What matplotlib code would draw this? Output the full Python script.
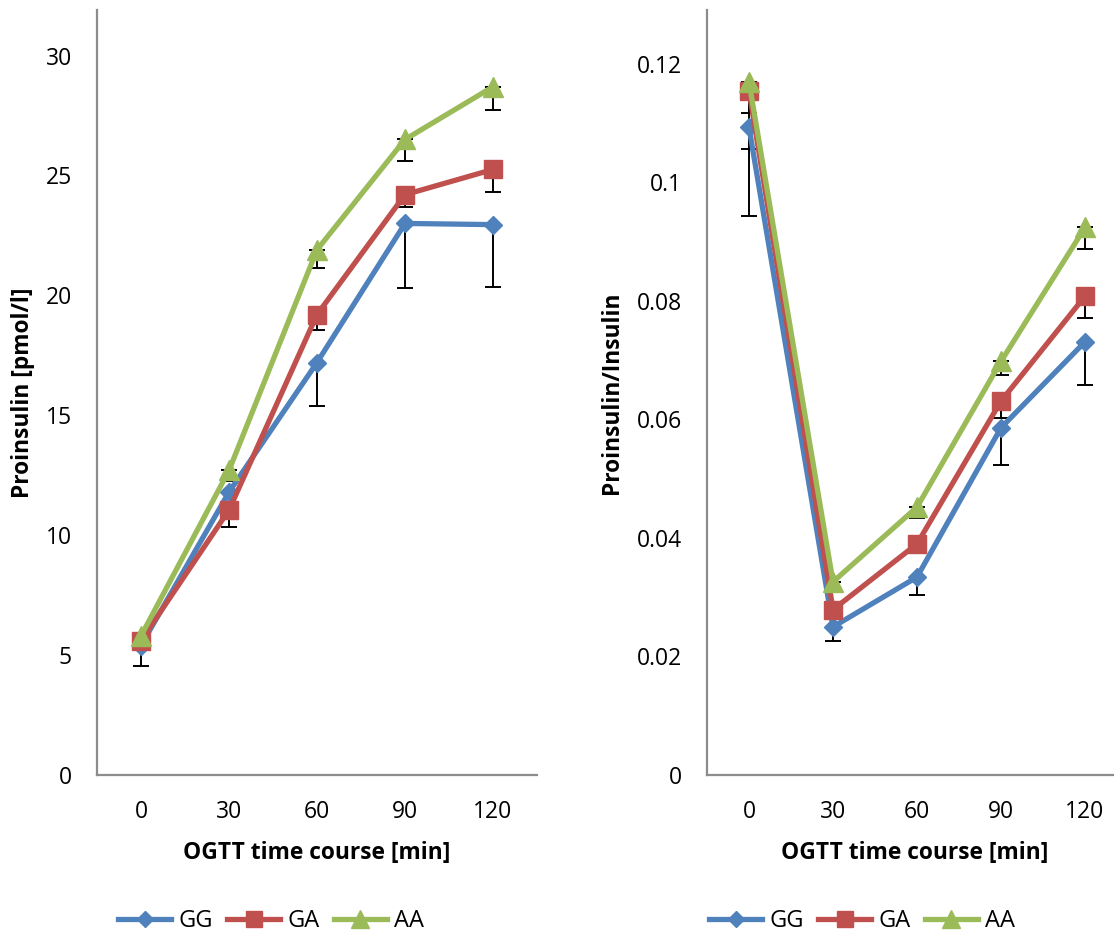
import matplotlib
matplotlib.use("Agg")
import matplotlib.pyplot as plt
import numpy as np

plt.rcParams['font.family'] = ['Open Sans', 'DejaVu Sans']

times = ["0", "30", "60", "90", "120"]
groups = ["GG", "GA", "AA"]
colors = {"GG": "#4F81BD", "GA": "#C0504D", "AA": "#9BBB59"}
markers = {"GG": "D", "GA": "s", "AA": "^"}
msizes = {"GG": 9.2, "GA": 13.5, "AA": 14.5}

# Left panel: proinsulin [pmol/l] (mean and lower error)
pro_GG = [5.4, 11.8, 17.2, 23.0, 22.95]
pro_GA = [5.6, 11.05, 19.2, 24.2, 25.25]
pro_AA = [5.8, 12.7, 21.9, 26.5, 28.7]
pro_err_GG = [0.85, 0.6, 1.8, 2.7, 2.6]
pro_err_GA = [0.3, 0.7, 0.65, 0.5, 0.95]
pro_err_AA = [0.3, 0.45, 0.75, 0.9, 0.95]

# Right panel: proinsulin/insulin ratio
rat_GG = [0.1093, 0.0250, 0.0334, 0.0586, 0.0731]
rat_GA = [0.1155, 0.0279, 0.0390, 0.0631, 0.0808]
rat_AA = [0.1170, 0.0326, 0.0452, 0.0698, 0.0924]
rat_err_GG = [0.0150, 0.0024, 0.0030, 0.0063, 0.0073]
rat_err_GA = [0.0098, 0.0015, 0.0015, 0.0028, 0.0037]
rat_err_AA = [0.0053, 0.0017, 0.0018, 0.0023, 0.0036]

W, H = 1114, 935
fig = plt.figure(figsize=(W / 100, H / 100), dpi=100)

def px_axes(x0, x1, y0, y1):
    return fig.add_axes([x0 / W, 1 - y1 / H, (x1 - x0) / W, (y1 - y0) / H])

ax1 = px_axes(97, 537, 10, 775)
ax2 = px_axes(707, 1114, 10, 775)

def draw(ax, series, errs, ylim, yticks, yfmt, ylabel, ylab_x, xlab_x):
    x = np.arange(len(times))
    for g in groups:
        y = np.array(series[g])
        e = np.array(errs[g])
        ax.errorbar(x, y, yerr=[e, np.zeros_like(e)], fmt='none', ecolor='black',
                    elinewidth=1.4, capsize=6, capthick=1.4, zorder=2)
        ax.plot(x, y, color=colors[g], lw=3.8, marker=markers[g], ms=msizes[g],
                mfc=colors[g], mec=colors[g], label=g, zorder=3)
    ax.set_ylim(*ylim)
    ax.set_yticks(yticks)
    ax.set_yticklabels([yfmt(v) for v in yticks])
    ax.set_xticks(x)
    ax.set_xticklabels(times)
    for s in ['top', 'right']:
        ax.spines[s].set_visible(False)
    for s in ['left', 'bottom']:
        ax.spines[s].set_color('#8c8c8c')
        ax.spines[s].set_linewidth(1.6)
    ax.tick_params(length=0, labelsize=16.5, colors='black')
    ax.tick_params(axis='x', pad=18)
    ax.tick_params(axis='y', pad=18)
    ax.set_xlabel("OGTT time course [min]", fontsize=16.4, fontweight='bold')
    ax.set_ylabel(ylabel, fontsize=16.4, fontweight='bold')
    ax.xaxis.set_label_coords(xlab_x, (775 - 853) / 765)
    ax.xaxis.label.set_va('center')
    ax.yaxis.set_label_coords(ylab_x, 0.5)
    ax.yaxis.label.set_va('center')

draw(ax1, {"GG": pro_GG, "GA": pro_GA, "AA": pro_AA},
     {"GG": pro_err_GG, "GA": pro_err_GA, "AA": pro_err_AA},
     (0, 31.9), [0, 5, 10, 15, 20, 25, 30], lambda v: f"{v:g}", "Proinsulin [pmol/l]",
     (23 - 97) / 440, 0.5)
ax1.set_xlim(-0.5, 4.5)

draw(ax2, {"GG": rat_GG, "GA": rat_GA, "AA": rat_AA},
     {"GG": rat_err_GG, "GA": rat_err_GA, "AA": rat_err_AA},
     (0, 0.1291), [0, 0.02, 0.04, 0.06, 0.08, 0.10, 0.12], lambda v: f"{v:g}", "Proinsulin/Insulin",
     (612 - 707) / 407, (915 - 707) / 407)
ax2.set_xlim(-0.5, (1114 - 707) / 84 - 0.5)

for ax, cx in [(ax1, 271), (ax2, 862)]:
    ax.legend(loc='center', bbox_to_anchor=(cx / W, 1 - 921 / H), bbox_transform=fig.transFigure,
              ncol=3, frameon=False, fontsize=17, handlelength=2.25, handletextpad=0.3,
              columnspacing=0.6, markerscale=0.85)

fig.savefig("out.png", dpi=100)
